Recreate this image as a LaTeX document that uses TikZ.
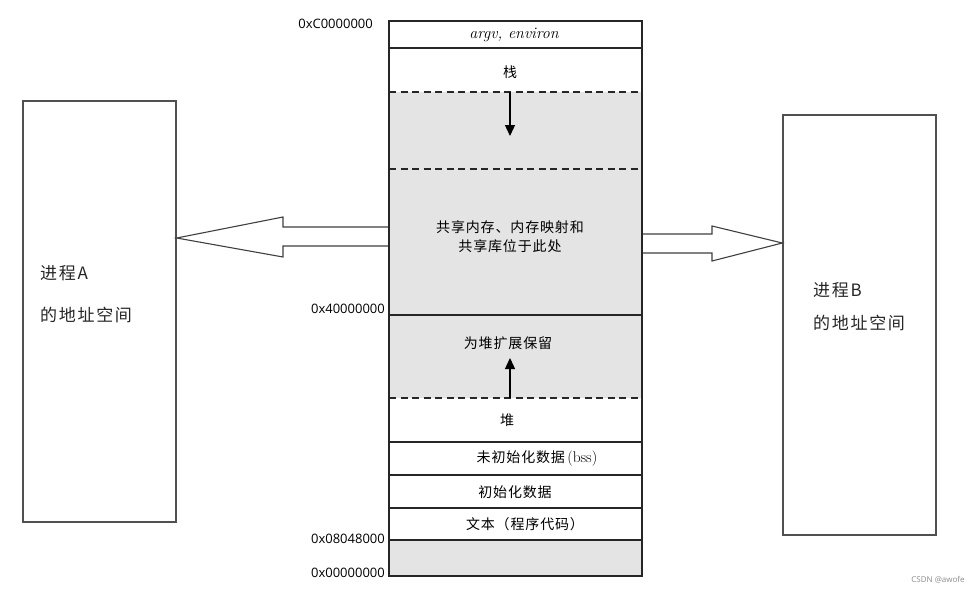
\documentclass[tikz,border=0pt]{standalone}
\usepackage{fontspec}
\newfontfamily\cjk{Noto Sans CJK SC}
\newfontfamily\addr{Open Sans}
\usetikzlibrary{arrows.meta}
\definecolor{memgray}{HTML}{E4E4E4}
\definecolor{boxline}{HTML}{505050}
\begin{document}
\begin{tikzpicture}[x=1pt,y=-1pt,
  seg/.style={inner sep=0pt,font=\cjk\fontsize{14}{16}\selectfont\addfontfeatures{LetterSpace=6}},
  addrlbl/.style={inner sep=0pt,anchor=east,font=\addr\fontsize{13}{15}\selectfont},
  proclbl/.style={inner sep=0pt,anchor=west,font=\cjk\fontsize{17}{20}\selectfont\addfontfeatures{LetterSpace=10},text=black!85},
  procbox/.style={draw=boxline,line width=1.4pt,fill=white,inner sep=0pt},
  sepline/.style={draw=black!85,line width=1.1pt},
  dashline/.style={draw=black!85,line width=1.2pt,dash pattern=on 7pt off 4.5pt},
  blockarrow/.style={draw=black!75,line width=1.1pt,fill=white,line join=miter},
  growarrow/.style={draw=black,line width=1.3pt,-{Triangle[length=11pt,width=10pt]}}
]
\useasboundingbox (0,0) rectangle (976,603);
\fill[white] (0,0) rectangle (976,603);

% process boxes
\node[procbox,minimum width=153pt,minimum height=421pt] (boxA) at (99.5,311.5) {};
\node[procbox,minimum width=153pt,minimum height=420pt] (boxB) at (859.5,325) {};

% memory column
\node[inner sep=0pt,minimum width=253pt,minimum height=555pt] (col) at (515.5,298.5) {};
\fill[memgray] (col.west |- 0,92) rectangle (col.east |- 0,398);
\fill[memgray] (col.west |- 0,540) rectangle (col.east |- 0,576);

\coordinate (s1) at (389,48);   \coordinate (s1e) at (642,48);
\coordinate (d1) at (389,92);   \coordinate (d1e) at (642,92);
\coordinate (d2) at (389,169);  \coordinate (d2e) at (642,169);
\coordinate (s2) at (389,315);  \coordinate (s2e) at (642,315);
\coordinate (d3) at (389,398);  \coordinate (d3e) at (642,398);
\coordinate (s3) at (389,442);  \coordinate (s3e) at (642,442);
\coordinate (s4) at (389,475);  \coordinate (s4e) at (642,475);
\coordinate (s5) at (389,508);  \coordinate (s5e) at (642,508);
\coordinate (s6) at (389,540);  \coordinate (s6e) at (642,540);
\draw[sepline] (s1) -- (s1e);
\draw[sepline] (s2) -- (s2e);
\draw[sepline] (s3) -- (s3e);
\draw[sepline] (s4) -- (s4e);
\draw[sepline] (s5) -- (s5e);
\draw[sepline] (s6) -- (s6e);
\draw[dashline] (d1) -- (d1e);
\draw[dashline] (d2) -- (d2e);
\draw[dashline] (d3) -- (d3e);
\draw[draw=black!85,line width=1.5pt] (col.north west) rectangle (col.south east);

% growth arrows
\coordinate (stk0) at (510,92);  \coordinate (stk1) at (510,136);
\coordinate (hp0) at (510,398);  \coordinate (hp1) at (510,358);
\draw[growarrow] (stk0) -- (stk1);
\draw[growarrow] (hp0) -- (hp1);

% segment labels
\node[inner sep=0pt,font=\itshape\fontsize{16}{18}\selectfont] (argv) at (514,35) {argv, environ};
\node[seg] (stack) at (510,72) {栈};
\node[seg,align=center] (shared) at (510,237) {共享内存、内存映射和\\[3pt]共享库位于此处};
\node[seg] (heapres) at (508,343) {为堆扩展保留};
\node[seg] (heap) at (507,420) {堆};
\node[seg] (bss) at (537,459) {未初始化数据\,{\rmfamily\fontsize{15.5}{17}\selectfont(bss)}};
\node[seg] (data) at (515,492) {初始化数据};
\node[seg] (text) at (525,524) {文本（程序代码）};

% address labels
\node[addrlbl] (a1) at (373,24) {0xC0000000};
\node[addrlbl] (a2) at (385,309) {0x40000000};
\node[addrlbl] (a3) at (385,539) {0x08048000};
\node[addrlbl] (a4) at (385,573) {0x00000000};

% block arrows
\coordinate (tipA) at (boxA.east |- 0,238);
\coordinate (tipB) at (boxB.west |- 0,243);
\draw[blockarrow] (389,227) -- (283,227) -- (283,217) -- (tipA) -- (283,257) -- (283,246) -- (389,246);
\draw[blockarrow] (642,234) -- (712,234) -- (712,226) -- (tipB) -- (712,261) -- (712,253) -- (642,253);
\draw[draw=black!85,line width=1.5pt] (col.north west) -- (col.south west);
\draw[draw=black!85,line width=1.5pt] (col.north east) -- (col.south east);

% process labels
\node[proclbl] (pA1) at (40,273) {进程A};
\node[proclbl] (pA2) at (40,315) {的地址空间};
\node[proclbl] (pB1) at (813,290) {进程B};
\node[proclbl] (pB2) at (813,323) {的地址空间};

% watermark
\node[inner sep=0pt,font=\addr\fontsize{8}{9}\selectfont,text=black!45] (wm) at (938,580) {CSDN @awofe};
\end{tikzpicture}
\end{document}
